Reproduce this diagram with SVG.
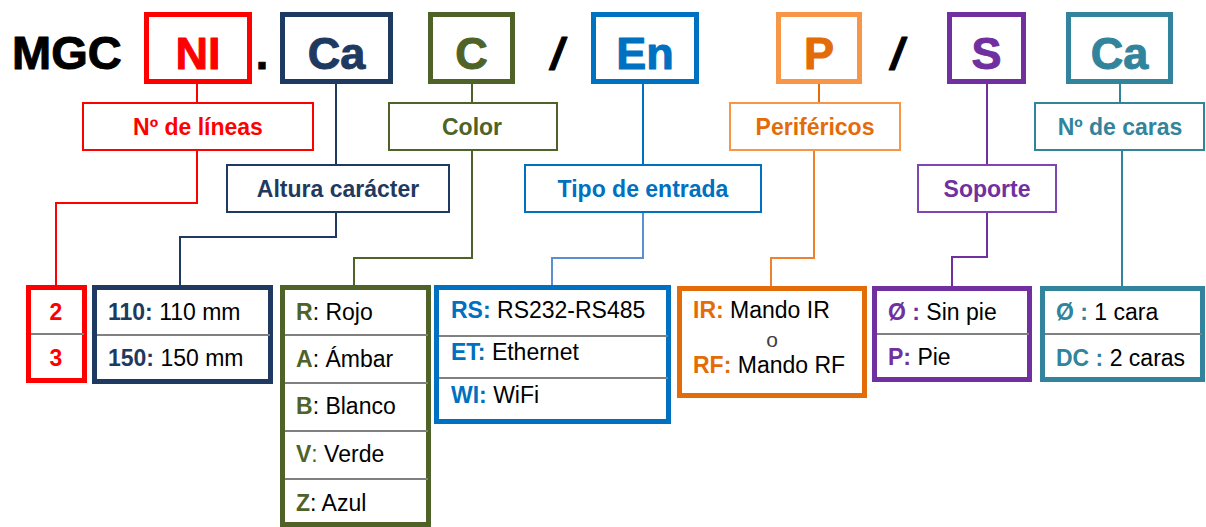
<svg xmlns="http://www.w3.org/2000/svg" width="1206" height="527" viewBox="0 0 1206 527">
<style>
text{font-family:"Liberation Sans",Arial,sans-serif}
.t{font-size:45px;font-weight:700;text-anchor:middle;stroke-width:1;stroke-linejoin:round}
.big{fill:none;stroke-width:5}
.lb{fill:#fff;stroke-width:2}
.lt{font-size:23px;font-weight:700;text-anchor:middle}
.r{font-size:23px}
.k{font-weight:700}
.div{stroke:#808080;stroke-width:2}
.c{fill:none;stroke-width:2}
</style>
<rect width="1206" height="527" fill="#fff"/>
<g id="connectors">
<path class="c" stroke="#FF0000" d="M197 84V103M197 150V203H56V285"/>
<path class="c" stroke="#1F3A60" d="M336 84V165M336 213V237H180V285"/>
<path class="c" stroke="#4F6228" d="M472 84V103M472 150V258H354V285"/>
<path class="c" stroke="#0070C0" d="M643 84V165"/>
<path class="c" stroke="#5B8FD0" d="M643 213V258H552V285"/>
<path class="c" stroke="#E36C09" d="M819 84V103"/>
<path class="c" stroke="#EE8030" d="M814 150V258H771V286"/>
<path class="c" stroke="#7030A0" d="M987 84V165M987 213V257H952V286"/>
<path class="c" stroke="#31849B" d="M1120 84V103M1122 150V286"/>
</g>
<g id="title">
<text x="12" y="69" font-size="47" font-weight="bold" fill="#000" stroke="#000" stroke-width="1" stroke-linejoin="round">MGC</text>
<text x="262" y="69" class="t" fill="#000" stroke="#000">.</text>
<text x="557" y="69" class="t" fill="#000" stroke="#000" font-style="italic">/</text>
<text x="897" y="69" class="t" fill="#000" stroke="#000" font-style="italic">/</text>
</g>
<g id="NI">
<rect class="big" stroke="#FF0000" x="146.5" y="14.5" width="103" height="67"/>
<text class="t" x="198" y="69" fill="#FF0000" stroke="#FF0000">NI</text>
</g>
<g id="Ca1">
<rect class="big" stroke="#1F3A60" x="282.5" y="14.5" width="108" height="67"/>
<text class="t" x="336.5" y="69" fill="#1F3A60" stroke="#1F3A60">Ca</text>
</g>
<g id="C">
<rect class="big" stroke="#4F6228" x="430.5" y="14.5" width="82" height="67"/>
<text class="t" x="471.5" y="69" fill="#4F6228" stroke="#4F6228">C</text>
</g>
<g id="En">
<rect class="big" stroke="#0070C0" x="593.5" y="14.5" width="103" height="67"/>
<text class="t" x="645" y="69" fill="#0070C0" stroke="#0070C0">En</text>
</g>
<g id="P">
<rect class="big" stroke="#F79646" x="778.5" y="14.5" width="81" height="67"/>
<text class="t" x="819" y="69" fill="#E36C09" stroke="#E36C09">P</text>
</g>
<g id="S">
<rect class="big" stroke="#7030A0" x="949.5" y="14.5" width="74" height="67"/>
<text class="t" x="986.5" y="69" fill="#7030A0" stroke="#7030A0">S</text>
</g>
<g id="Ca2">
<rect class="big" stroke="#31849B" x="1068.5" y="14.5" width="102" height="67"/>
<text class="t" x="1119.5" y="69" fill="#31849B" stroke="#31849B">Ca</text>
</g>
<g id="lbl-lineas">
<rect class="lb" stroke="#FF0000" x="83" y="103" width="230" height="47"/>
<text class="lt" x="198" y="135" fill="#FF0000">Nº de líneas</text>
</g>
<g id="lbl-altura">
<rect class="lb" stroke="#1F3A60" x="227" y="165" width="222" height="47"/>
<text class="lt" x="338" y="197" fill="#1F3A60">Altura carácter</text>
</g>
<g id="lbl-color">
<rect class="lb" stroke="#4F6228" x="389" y="103" width="168" height="47"/>
<text class="lt" x="472" y="135" fill="#4F6228">Color</text>
</g>
<g id="lbl-tipo">
<rect class="lb" stroke="#0070C0" x="525" y="165" width="236" height="47"/>
<text class="lt" x="643" y="197" fill="#0070C0">Tipo de entrada</text>
</g>
<g id="lbl-perifericos">
<rect class="lb" stroke="#F79646" x="730" y="103" width="170" height="47"/>
<text class="lt" x="815" y="135" fill="#E36C09">Periféricos</text>
</g>
<g id="lbl-soporte">
<rect class="lb" stroke="#7F46B0" x="918" y="165" width="138" height="47"/>
<text class="lt" x="987" y="197" fill="#7030A0">Soporte</text>
</g>
<g id="lbl-caras">
<rect class="lb" stroke="#31849B" x="1035" y="103" width="169" height="47"/>
<text class="lt" x="1120" y="135" fill="#31849B">Nº de caras</text>
</g>
<g id="opt-lineas">
<rect class="big" stroke="#FF0000" x="28.5" y="287.5" width="56" height="93"/>
<line class="div" x1="31" y1="334" x2="84" y2="334"/>
<text class="r k" x="56" y="320" text-anchor="middle" fill="#FF0000">2</text>
<text class="r k" x="56" y="366" text-anchor="middle" fill="#FF0000">3</text>
</g>
<g id="opt-altura">
<rect class="big" stroke="#1F3A60" x="94.5" y="287.5" width="176" height="94"/>
<line class="div" x1="97" y1="335" x2="270" y2="335"/>
<text class="r" x="108" y="320" fill="#000"><tspan class="k" fill="#1F3A60">110:</tspan> 110 mm</text>
<text class="r" x="108" y="366" fill="#000"><tspan class="k" fill="#1F3A60">150:</tspan> 150 mm</text>
</g>
<g id="opt-color">
<rect class="big" stroke="#4F6228" x="282.5" y="287.5" width="146" height="237"/>
<line class="div" x1="285" y1="335" x2="428" y2="335"/>
<line class="div" x1="285" y1="383" x2="428" y2="383"/>
<line class="div" x1="285" y1="431" x2="428" y2="431"/>
<line class="div" x1="285" y1="479" x2="428" y2="479"/>
<text class="r" x="296" y="320" fill="#000"><tspan class="k" fill="#4F6228">R</tspan>: Rojo</text>
<text class="r" x="296" y="367" fill="#000"><tspan class="k" fill="#4F6228">A</tspan>: Ámbar</text>
<text class="r" x="296" y="414" fill="#000"><tspan class="k" fill="#4F6228">B</tspan>: Blanco</text>
<text class="r" x="296" y="462" fill="#000"><tspan class="k" fill="#4F6228">V</tspan><tspan fill="#4F6228">:</tspan> Verde</text>
<text class="r" x="296" y="511" fill="#000"><tspan class="k" fill="#4F6228">Z</tspan>: Azul</text>
</g>
<g id="opt-entrada">
<rect class="big" stroke="#0070C0" x="436.5" y="287.5" width="232" height="134"/>
<line class="div" x1="439" y1="336" x2="668" y2="336"/>
<line class="div" x1="439" y1="378" x2="668" y2="378"/>
<text class="r" x="451" y="318" fill="#000"><tspan class="k" fill="#0070C0">RS:</tspan> RS232-RS485</text>
<text class="r" x="451" y="360" fill="#000"><tspan class="k" fill="#0070C0">ET:</tspan> Ethernet</text>
<text class="r" x="451" y="403" fill="#000"><tspan class="k" fill="#0070C0">WI:</tspan> WiFi</text>
</g>
<g id="opt-perifericos">
<rect class="big" stroke="#E36C09" x="679.5" y="288.5" width="185" height="107"/>
<text class="r" x="693" y="318" fill="#000"><tspan class="k" fill="#E36C09">IR:</tspan> Mando IR</text>
<text x="772" y="347" font-size="21" fill="#404040" text-anchor="middle">o</text>
<text class="r" x="693" y="373" fill="#000"><tspan class="k" fill="#E36C09">RF:</tspan> Mando RF</text>
</g>
<g id="opt-soporte">
<rect class="big" stroke="#7030A0" x="874.5" y="288.5" width="155" height="91"/>
<line class="div" x1="877" y1="334" x2="1029" y2="334"/>
<text class="r" x="888" y="320" fill="#000"><tspan class="k" fill="#7030A0">Ø :</tspan> Sin pie</text>
<text class="r" x="888" y="365" fill="#000"><tspan class="k" fill="#7030A0">P:</tspan> Pie</text>
</g>
<g id="opt-caras">
<rect class="big" stroke="#31849B" x="1042.5" y="288.5" width="160" height="91"/>
<line class="div" x1="1045" y1="334" x2="1202" y2="334"/>
<text class="r" x="1056" y="320" fill="#000"><tspan class="k" fill="#31849B">Ø :</tspan> 1 cara</text>
<text class="r" x="1056" y="366" fill="#000"><tspan class="k" fill="#31849B">DC :</tspan> 2 caras</text>
</g>
</svg>
